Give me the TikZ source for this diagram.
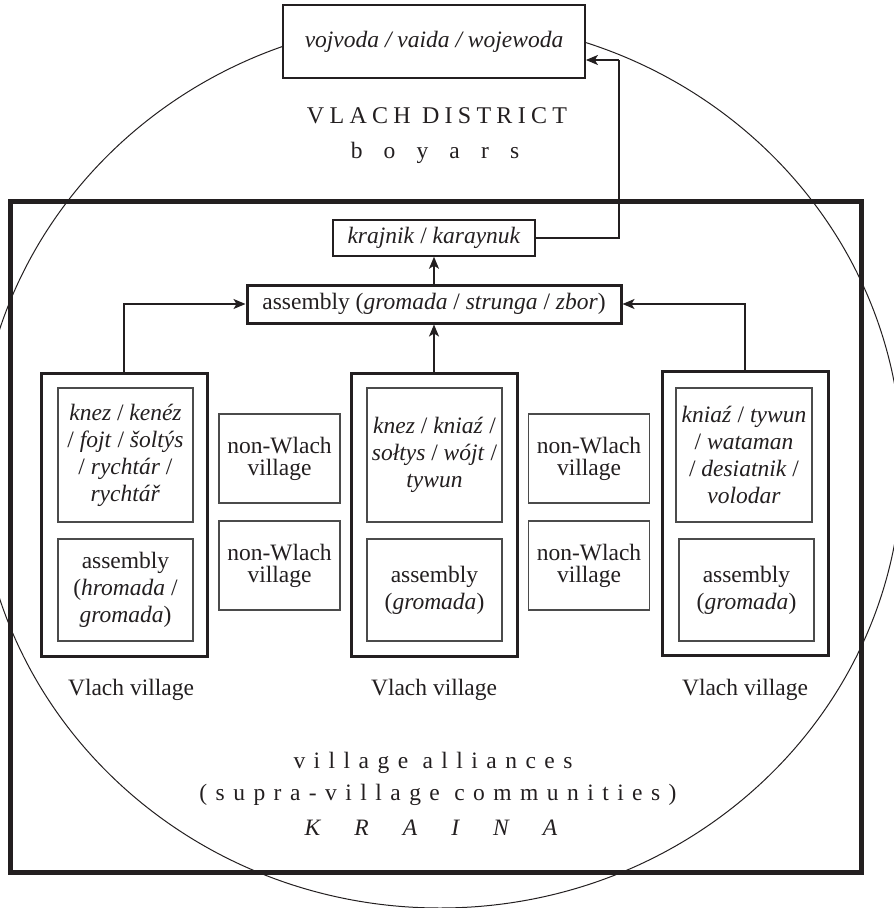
\documentclass[tikz,border=0pt]{standalone}
\usepackage{fontspec}
\setmainfont{Liberation Serif}
\newfontfamily\lsA[LetterSpace=22]{Liberation Serif}
\newfontfamily\lsB[LetterSpace=90]{Liberation Serif}
\newfontfamily\lsC[LetterSpace=36]{Liberation Serif}
\newfontfamily\lsK[LetterSpace=145]{Liberation Serif}
\usetikzlibrary{arrows.meta,calc}
\definecolor{ink}{RGB}{35,31,32}
\definecolor{grayline}{RGB}{75,75,75}
\begin{document}
\begin{tikzpicture}[x=1pt,y=-1pt,
  box/.style={draw=ink, fill=white, inner sep=0pt, align=center, text=ink,
    font=\fontsize{23.5}{27}\selectfont},
  thinbox/.style={box, line width=1.5pt, draw=grayline},
  thickbox/.style={box, line width=3pt},
  nwbox/.style={thinbox, minimum width=121pt, minimum height=89pt,
    font=\fontsize{23.5}{22}\selectfont},
  arr/.style={draw=ink, line width=1.3pt, -{Stealth[length=12pt,width=10pt,inset=3pt]}},
  conn/.style={draw=ink, line width=1.3pt},
  lbl/.style={inner sep=0pt, text=ink, font=\fontsize{23.5}{27}\selectfont}]
\useasboundingbox (0,0) rectangle (894,908);
% circle (ellipse)
\draw[ink, line width=1pt] (440,464) ellipse [x radius=462pt, y radius=444pt];
% big frame
\draw[ink, line width=5pt] (10,201) rectangle (861,872);
% top box
\node[box, line width=1.8pt, minimum width=302pt, minimum height=73pt] (voj) at (434,41.5)
  {\itshape vojvoda / vaida / wojewoda};
\node[lbl] (dist) at (437,116) {\fontsize{24}{27}\lsA VLACH DISTRICT};
\node[lbl] (boy) at (435,153) {\fontsize{23.5}{27}\lsB boyars};
% krajnik
\node[box, line width=1.5pt, minimum width=202pt, minimum height=36pt] (kraj) at (434,238)
  {\textit{krajnik} / \textit{karaynuk}};
\node[thickbox, minimum width=374pt, minimum height=38pt] (asm) at (434,304)
  {assembly (\textit{gromada} / \textit{strunga} / \textit{zbor})};
% villages
\node[thickbox, minimum width=166pt, minimum height=283pt] (v1) at (124,514.5) {};
\node[thickbox, minimum width=166pt, minimum height=283pt] (v2) at (434,514.5) {};
\node[thickbox, minimum width=166pt, minimum height=284pt] (v3) at (745,513) {};
% inner boxes
\node[thinbox, minimum width=135pt, minimum height=134pt] (h1) at (125.5,455)
  {\textit{knez} / \textit{kenéz}\\ / \textit{fojt} / \textit{šoltýs}\\ / \textit{rychtár} /\\ \textit{rychtář}};
\node[thinbox, minimum width=135pt, minimum height=102pt] (a1) at (125.5,590)
  {assembly\\ (\textit{hromada} /\\ \textit{gromada})};
\node[thinbox, minimum width=135pt, minimum height=134pt] (h2) at (434.5,455)
  {\textit{knez} / \textit{kniaź} /\\ \textit{sołtys} / \textit{wójt} /\\ \textit{tywun}};
\node[thinbox, minimum width=135pt, minimum height=102pt] (a2) at (434.5,590)
  {assembly\\ (\textit{gromada})};
\node[thinbox, minimum width=136pt, minimum height=134pt] (h3) at (744,455)
  {\textit{kniaź} / \textit{tywun}\\ / \textit{wataman}\\ / \textit{desiatnik} /\\ \textit{volodar}};
\node[thinbox, minimum width=135pt, minimum height=102pt] (a3) at (746.5,590)
  {assembly\\ (\textit{gromada})};
% non-Wlach villages
\node[nwbox] (n1) at (279.5,458.5) {non-Wlach\\ village};
\node[nwbox] (n2) at (279.5,565.5) {non-Wlach\\ village};
\node[nwbox] (n3) at (589,458.5) {non-Wlach\\ village};
\node[nwbox] (n4) at (589,565.5) {non-Wlach\\ village};
% labels
\node[lbl] (l1) at (131,690) {Vlach village};
\node[lbl] (l2) at (434,690) {Vlach village};
\node[lbl] (l3) at (745,690) {Vlach village};
% bottom texts
\node[lbl] (t1) at (433,763) {\fontsize{23.5}{27}\lsC village alliances};
\node[lbl] (t2) at (438,795) {\fontsize{23.5}{27}\lsC (supra-village communities)};
\node[lbl] (t3) at (431,828) {\fontsize{23.5}{27}\lsK\itshape KRAINA};
% connectors
\draw[arr] (v1.north) |- (asm.west);
\draw[arr] (v3.north) |- (asm.east);
\draw[arr] (v2.north) -- (asm.south);
\draw[arr] (asm.north) -- (kraj.south);
\coordinate (c1) at (619,60);
\draw[conn] (kraj.east) -| (c1);
\draw[arr] (c1) -- (c1 -| voj.east);
\end{tikzpicture}
\end{document}
